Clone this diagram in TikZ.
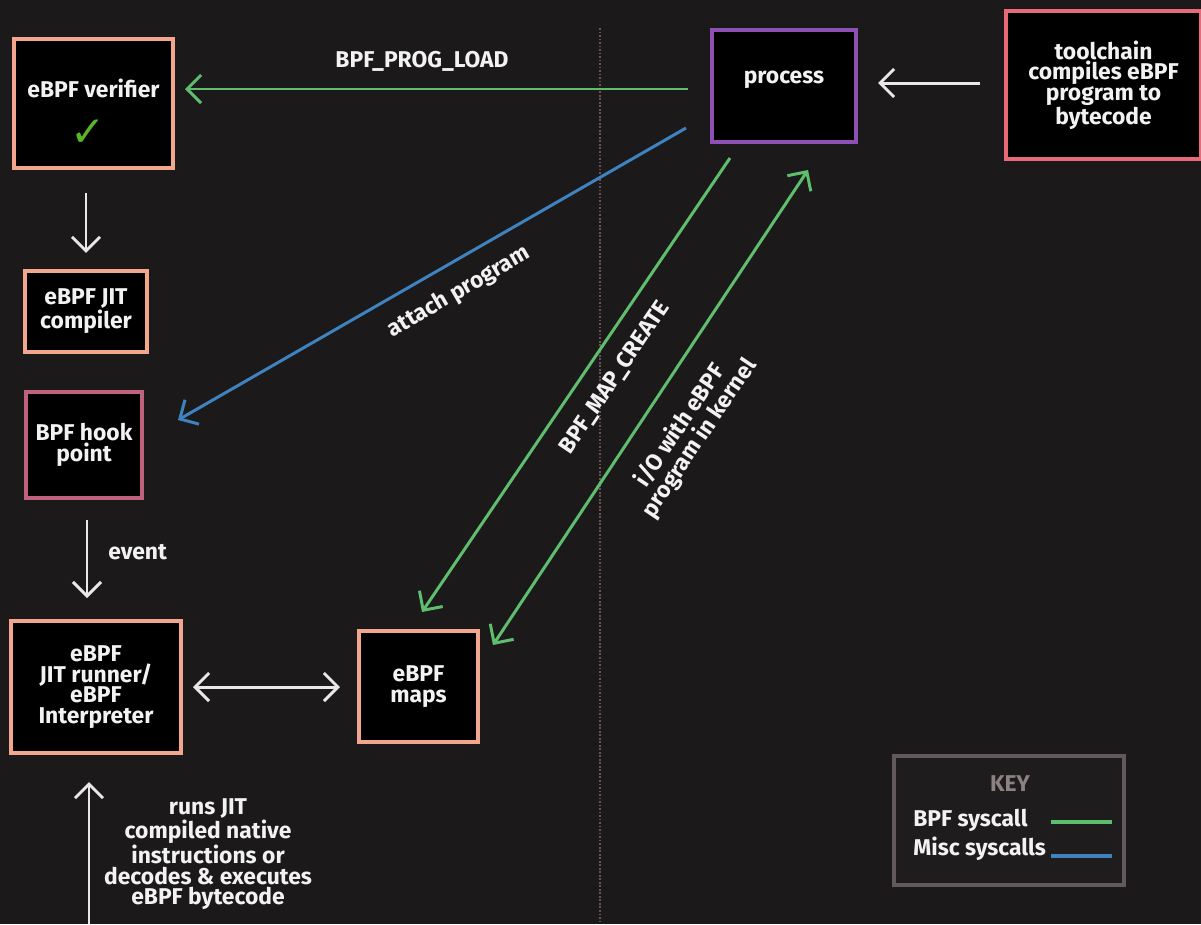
\documentclass[tikz,border=0pt]{standalone}
\usepackage{fontspec}
\setmainfont{Fira Sans}
\newfontfamily\symfont{DejaVu Sans}
\usetikzlibrary{arrows.meta}
\definecolor{bgc}{RGB}{27,25,25}
\definecolor{salmon}{RGB}{242,166,140}
\definecolor{hookc}{RGB}{192,98,126}
\definecolor{procc}{RGB}{142,80,180}
\definecolor{toolc}{RGB}{232,106,120}
\definecolor{keyc}{RGB}{98,90,90}
\definecolor{keybg}{RGB}{30,28,28}
\definecolor{keyt}{RGB}{140,130,130}
\definecolor{grn}{RGB}{95,190,110}
\definecolor{blu}{RGB}{62,130,192}
\definecolor{wht}{RGB}{232,232,232}
\definecolor{txtc}{RGB}{242,242,242}
\definecolor{chkc}{RGB}{90,180,40}
\definecolor{sepc}{RGB}{110,82,86}
\newcommand{\boxfont}{\bfseries\fontsize{13pt}{11.7pt}\selectfont}

\begin{document}
\begin{tikzpicture}[x=0.02cm,y=-0.02cm,
    >={Straight Barb[length=8pt,width=16pt]},
    box/.style={draw=#1,fill=black,line width=2.3pt,text=txtc,font=\boxfont,align=center,inner sep=0pt},
    box/.default=salmon,
    wline/.style={draw=wht,line width=1.7pt},
    gline/.style={draw=grn,line width=1.7pt},
    bline/.style={draw=blu,line width=1.7pt},
    lbl/.style={text=txtc,font=\boxfont,align=center,inner sep=0pt}]
        \useasboundingbox[fill=bgc] (0,0) rectangle (1201,924);
        \draw[sepc,line width=1.6pt,dash pattern=on 1pt off 1pt] (600,28)--(600,924);

        \begin{scope}
            \node[box,minimum width=3.18cm,minimum height=2.58cm,text height=0.32cm,text depth=0.58cm] (verif) at (93.5,103.5) {eBPF verifier};
            \node[text=chkc,font=\symfont\fontsize{24pt}{24pt}\selectfont,inner sep=0pt] (chk) at (88,133) {✓};
            \node[box,minimum width=2.44cm,minimum height=1.62cm] (jit) at (86,311.5) {eBPF JIT\\compiler};
            \node[box=hookc,minimum width=2.32cm,minimum height=2.12cm] (hook) at (84,445) {BPF hook\\point};
            \node[box,minimum width=3.4cm,minimum height=2.64cm] (runner) at (96,687) {eBPF\\JIT runner/\\eBPF\\Interpreter};
            \node[box,minimum width=2.38cm,minimum height=2.22cm] (maps) at (418.5,686.5) {eBPF\\maps};
            \node[box=procc,minimum width=2.88cm,minimum height=2.24cm,text height=0.32cm,text depth=0.44cm] (proc) at (784,86) {process};
            \node[box=toolc,minimum width=3.9cm,minimum height=2.96cm] (tool) at (1103.5,85) {toolchain\\compiles eBPF\\program to\\bytecode};
        \end{scope}

        \draw[wline,->,shorten <=0.46cm,shorten >=0.32cm] (verif.south -| jit.north)--(jit.north);
        \draw[wline,->,shorten <=0.4cm,shorten >=0.42cm] ([xshift=0.06cm]hook.south)--([xshift=0.06cm]hook.south |- runner.north);
        \node[lbl,anchor=west] (evl) at (108,552) {event};
        \draw[wline,<->,shorten <=0.2cm,shorten >=0.34cm] (runner.east)--(runner.east -| maps.west);
        \draw[wline,->,shorten <=0.48cm,shorten >=0.4cm] ([yshift=0.04cm]tool.west)--([yshift=0.04cm]tool.west -| proc.east);
        \coordinate (runbot) at (89,924);
        \draw[wline,->,shorten >=0.54cm] (runbot)--(runbot |- runner.south);
        \node[lbl] (runl) at (208,854) {runs JIT\\compiled native\\instructions or\\decodes \& executes\\eBPF bytecode};

        \draw[gline,->,shorten <=0.44cm,shorten >=0.2cm] ([yshift=-0.06cm]proc.west)--([yshift=-0.06cm]proc.west -| verif.east);
        \node[lbl] (load) at (422,61) {BPF\_PROG\_LOAD};

        \coordinate (att-s) at (686,128);
        \coordinate (att-e) at (178,420);
        \draw[bline,->] (att-s)--(att-e);
        \node[lbl,rotate=30] (attl) at (459,292) {attach program};

        \coordinate (map-s) at (730,158);
        \coordinate (map-e) at (422,612);
        \draw[gline,->] (map-s)--(map-e);
        \node[lbl,rotate=56] (mapl) at (615,378) {BPF\_MAP\_CREATE};

        \coordinate (io-s) at (493,645);
        \coordinate (io-e) at (808,170);
        \draw[gline,<->] (io-s)--(io-e);
        \node[lbl,rotate=56,font=\bfseries\fontsize{13pt}{13pt}\selectfont] (iol) at (690,432) {i/O with eBPF\\program in kernel};

        \begin{scope}
            \node[box=keyc,fill=keybg,line width=2.8pt,minimum width=4.6cm,minimum height=2.58cm] (key) at (1009,820.5) {};
            \node[lbl,text=keyt] (keyt) at (1010,784) {KEY};
            \node[lbl,anchor=west] (bsys) at (913,820) {BPF syscall};
            \node[lbl,anchor=west] (msys) at (913,849) {Misc syscalls};
            \foreach \c/\y in {grn/822,blu/856}
                {
                    \draw[draw=\c,line width=2.6pt] (1051,\y)--(1112,\y);
                }
        \end{scope}
    \end{tikzpicture}
\end{document}
